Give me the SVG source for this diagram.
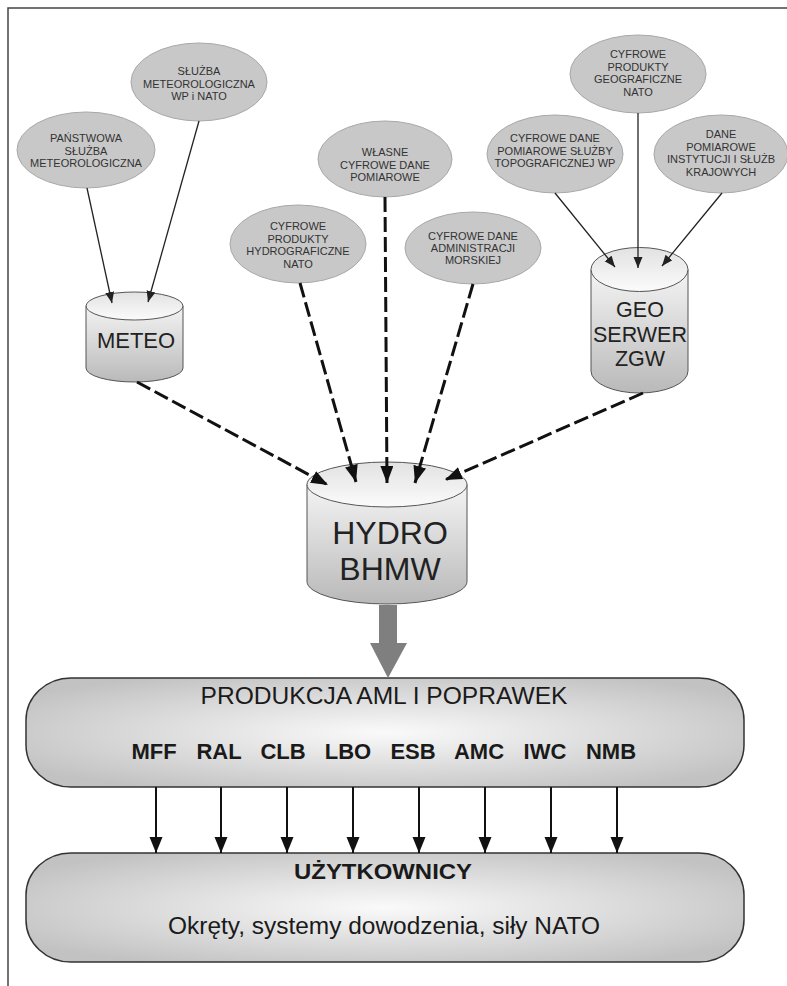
<svg xmlns="http://www.w3.org/2000/svg" width="787" height="986" viewBox="0 0 787 986">
<defs>
<style>
.src ellipse{fill:#c8c8c8;stroke:#a8a8a8;stroke-width:1}
.src text{font-family:"Liberation Sans",Arial,sans-serif;font-size:11px;fill:#333;text-anchor:middle}
.cyl .body{fill:url(#cylBody);stroke:#555;stroke-width:1}
.cyl .top{fill:url(#cylTop);stroke:#555;stroke-width:1}
.cyl text{font-family:"Liberation Sans",Arial,sans-serif;fill:#222;text-anchor:middle}
.thin{stroke:#222;stroke-width:1.3;fill:none;marker-end:url(#thinHead)}
.dash{stroke:#111;stroke-width:3;fill:none;stroke-dasharray:15 5;marker-end:url(#dashHead)}
.down{stroke:#111;stroke-width:2;fill:none;marker-end:url(#downHead)}
.box rect{fill:url(#boxFill);stroke:#333;stroke-width:1.5}
.box text{font-family:"Liberation Sans",Arial,sans-serif;fill:#1a1a1a;text-anchor:middle}
</style>
<linearGradient id="cylBody" x1="0" y1="0" x2="0" y2="1">
<stop offset="0" stop-color="#f4f4f4"/>
<stop offset="1" stop-color="#b9b9b9"/>
</linearGradient>
<linearGradient id="cylTop" x1="0" y1="0" x2="0" y2="1">
<stop offset="0" stop-color="#e2e2e2"/>
<stop offset="1" stop-color="#fbfbfb"/>
</linearGradient>
<radialGradient id="boxFill" cx="0.5" cy="0.5" r="0.6">
<stop offset="0" stop-color="#fafafa"/>
<stop offset="1" stop-color="#c2c2c2"/>
</radialGradient>
<marker id="thinHead" markerUnits="userSpaceOnUse" markerWidth="12" markerHeight="10" refX="11" refY="4.5" orient="auto">
<path d="M0,0 L11,4.5 L0,9 Z" fill="#222"/>
</marker>
<marker id="dashHead" markerUnits="userSpaceOnUse" markerWidth="18" markerHeight="14" refX="17" refY="6.5" orient="auto">
<path d="M0,0 L17,6.5 L0,13 Z" fill="#111"/>
</marker>
<marker id="downHead" markerUnits="userSpaceOnUse" markerWidth="18" markerHeight="14" refX="16" refY="6.5" orient="auto">
<path d="M0,0 L16,6.5 L0,13 Z" fill="#111"/>
</marker>
</defs>

<rect width="787" height="986" fill="#fff"/>
<path d="M8,986 L8,8 L787,8" fill="none" stroke="#444" stroke-width="1.5"/>

<g id="panstwowa" class="src">
<ellipse cx="86" cy="150" rx="69" ry="38"/>
<text x="86" y="142">PAŃSTWOWA</text>
<text x="86" y="154.5">SŁUŻBA</text>
<text x="86" y="167">METEOROLOGICZNA</text>
</g>
<g id="sluzba" class="src">
<ellipse cx="199" cy="82" rx="68" ry="39"/>
<text x="199" y="75">SŁUŻBA</text>
<text x="199" y="87.5">METEOROLOGICZNA</text>
<text x="199" y="100">WP i NATO</text>
</g>
<g id="wlasne" class="src">
<ellipse cx="385" cy="159" rx="67" ry="38"/>
<text x="385" y="156">WŁASNE</text>
<text x="385" y="168.5">CYFROWE DANE</text>
<text x="385" y="181">POMIAROWE</text>
</g>
<g id="hydrograf" class="src">
<ellipse cx="298" cy="244" rx="68" ry="39"/>
<text x="298" y="230">CYFROWE</text>
<text x="298" y="242.5">PRODUKTY</text>
<text x="298" y="255">HYDROGRAFICZNE</text>
<text x="298" y="267.5">NATO</text>
</g>
<g id="administracji" class="src">
<ellipse cx="473" cy="248" rx="68" ry="36"/>
<text x="473" y="240">CYFROWE DANE</text>
<text x="473" y="252">ADMINISTRACJI</text>
<text x="473" y="264">MORSKIEJ</text>
</g>
<g id="topo" class="src">
<ellipse cx="555" cy="154" rx="68" ry="39"/>
<text x="555" y="142">CYFROWE DANE</text>
<text x="555" y="154.5">POMIAROWE SŁUŻBY</text>
<text x="555" y="167">TOPOGRAFICZNEJ WP</text>
</g>
<g id="geograf" class="src">
<ellipse cx="638" cy="74" rx="68" ry="39"/>
<text x="638" y="58">CYFROWE</text>
<text x="638" y="70.5">PRODUKTY</text>
<text x="638" y="83">GEOGRAFICZNE</text>
<text x="638" y="95.5">NATO</text>
</g>
<g id="krajowe" class="src">
<ellipse cx="721" cy="154" rx="67" ry="39"/>
<text x="721" y="138">DANE</text>
<text x="721" y="150.5">POMIAROWE</text>
<text x="721" y="163">INSTYTUCJI I SŁUŻB</text>
<text x="721" y="175.5">KRAJOWYCH</text>
</g>

<g id="meteo" class="cyl">
<path class="body" d="M86,306 L86,368 A48.5,14 0 0 0 183,368 L183,306 Z"/>
<ellipse class="top" cx="134.5" cy="306" rx="48.5" ry="14"/>
<text x="136" y="348" font-size="22">METEO</text>
</g>
<g id="geoserwer" class="cyl">
<path class="body" d="M591,269.5 L591,371 A48.5,22 0 0 0 688,371 L688,269.5 Z"/>
<ellipse class="top" cx="639.5" cy="269.5" rx="48.5" ry="22"/>
<text x="640" y="317" font-size="21.5">GEO</text>
<text x="640" y="342" font-size="21.5">SERWER</text>
<text x="640" y="366" font-size="21.5">ZGW</text>
</g>
<g id="hydro" class="cyl">
<path class="body" d="M307,484.5 L307,581.5 A80,22.5 0 0 0 467,581.5 L467,484.5 Z"/>
<ellipse class="top" cx="387" cy="484.5" rx="80" ry="22.5"/>
<text x="390" y="544" font-size="32">HYDRO</text>
<text x="390" y="580" font-size="32">BHMW</text>
</g>

<g id="produkcja" class="box">
<rect x="26" y="678" width="718" height="109" rx="45" ry="42"/>
<text x="384" y="704" font-size="23" textLength="367" lengthAdjust="spacingAndGlyphs">PRODUKCJA AML I POPRAWEK</text>
<g font-size="22" font-weight="bold">
<text x="154" y="759">MFF</text>
<text x="219" y="759">RAL</text>
<text x="283" y="759">CLB</text>
<text x="348" y="759">LBO</text>
<text x="413" y="759">ESB</text>
<text x="479" y="759">AMC</text>
<text x="545" y="759">IWC</text>
<text x="611" y="759">NMB</text>
</g>
</g>

<g id="uzytkownicy" class="box">
<rect x="26" y="853" width="718" height="109" rx="45" ry="42"/>
<text x="383" y="879" font-size="22" font-weight="bold" textLength="178" lengthAdjust="spacingAndGlyphs">UŻYTKOWNICY</text>
<text x="384" y="934" font-size="23" textLength="432" lengthAdjust="spacingAndGlyphs">Okręty, systemy dowodzenia, siły NATO</text>
</g>

<g id="connectors">
<line class="thin" x1="87" y1="188" x2="112" y2="303"/>
<line class="thin" x1="199" y1="121" x2="148" y2="302"/>
<line class="thin" x1="555" y1="193" x2="615" y2="267"/>
<line class="thin" x1="638" y1="113" x2="638" y2="268"/>
<line class="thin" x1="722" y1="193" x2="662" y2="266"/>
<line class="dash" x1="137" y1="382" x2="328" y2="485"/>
<line class="dash" x1="300" y1="283" x2="356" y2="482"/>
<line class="dash" x1="385" y1="197" x2="387" y2="483"/>
<line class="dash" x1="473" y1="284" x2="415" y2="483"/>
<line class="dash" x1="643" y1="393" x2="445" y2="480"/>
<polygon points="379,605 397,605 397,643 407,643 388,678 370,643 379,643" fill="#7f7f7f"/>
<line class="down" x1="156" y1="787" x2="156" y2="853"/>
<line class="down" x1="221" y1="787" x2="221" y2="853"/>
<line class="down" x1="287" y1="787" x2="287" y2="853"/>
<line class="down" x1="353" y1="787" x2="353" y2="853"/>
<line class="down" x1="419" y1="787" x2="419" y2="853"/>
<line class="down" x1="485" y1="787" x2="485" y2="853"/>
<line class="down" x1="551" y1="787" x2="551" y2="853"/>
<line class="down" x1="617" y1="787" x2="617" y2="853"/>
</g>
</svg>
